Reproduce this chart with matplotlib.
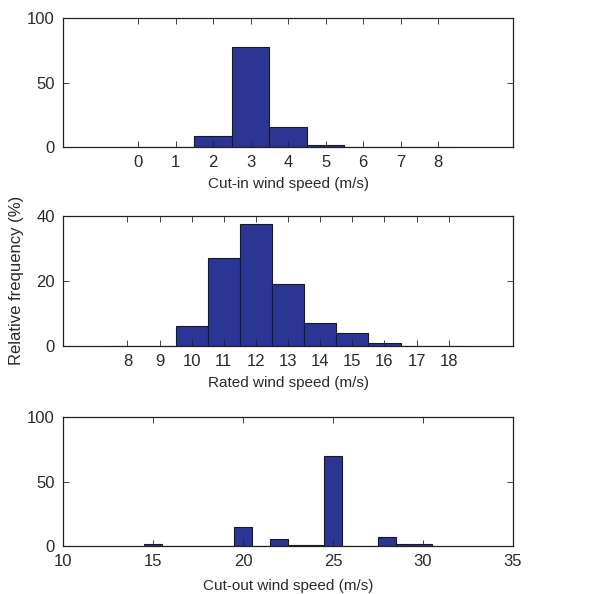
import matplotlib
matplotlib.use("Agg")
import matplotlib.pyplot as plt

plt.rcParams['font.family'] = ['Liberation Sans', 'DejaVu Sans']
plt.rcParams['font.size'] = 11

# relative frequency (%) per wind speed bin
cut_in_speed = [0, 1, 2, 3, 4, 5, 6, 7, 8]
cut_in_freq = [0, 0, 8.5, 77.5, 15, 1, 0, 0, 0]

rated_speed = [8, 9, 10, 11, 12, 13, 14, 15, 16, 17, 18]
rated_freq = [0, 0, 6, 27, 37.5, 19, 7, 4, 0.7, 0, 0]

cut_out_speed = [15, 16, 17, 18, 19, 20, 21, 22, 23, 24, 25, 26, 27, 28, 29, 30]
cut_out_freq = [1.6, 0, 0, 0, 0, 15, 0, 5, 0.8, 0.8, 69.5, 0, 0, 6.7, 1.5, 1.5]

bar_color = '#2b3594'
edge_color = '#1a1a1a'
text_color = '#2a2a2a'

fig = plt.figure(figsize=(5.91, 5.94), dpi=100)
ax1 = fig.add_axes([0.107, 0.753, 0.761, 0.216])
ax2 = fig.add_axes([0.107, 0.418, 0.761, 0.219])
ax3 = fig.add_axes([0.107, 0.081, 0.761, 0.2167])


def hist_bars(ax, x, y):
    ax.bar(x, y, width=1.0, color=bar_color, edgecolor=edge_color, linewidth=0.8)
    ax.tick_params(direction='in', top=True, right=True, length=4, width=0.6,
                   labelsize=12, colors='#222222', labelcolor=text_color, pad=6)
    for s in ax.spines.values():
        s.set_linewidth(0.9)
        s.set_color('#222222')


hist_bars(ax1, cut_in_speed, cut_in_freq)
ax1.set_xlim(-2, 10)
ax1.set_ylim(0, 100)
ax1.set_xticks(cut_in_speed)
ax1.set_yticks([0, 50, 100])
ax1.set_xlabel('Cut-in wind speed (m/s)', fontsize=11, labelpad=5, color=text_color)

hist_bars(ax2, rated_speed, rated_freq)
ax2.set_xlim(6, 20)
ax2.set_ylim(0, 40)
ax2.set_xticks(rated_speed)
ax2.set_yticks([0, 20, 40])
ax2.set_xlabel('Rated wind speed (m/s)', fontsize=11, labelpad=5, color=text_color)
ax2.set_ylabel('Relative frequency (%)', fontsize=12, labelpad=9, color=text_color)

hist_bars(ax3, cut_out_speed, cut_out_freq)
ax3.set_xlim(10, 35)
ax3.set_ylim(0, 100)
ax3.set_xticks([10, 15, 20, 25, 30, 35])
ax3.set_yticks([0, 50, 100])
ax3.set_xlabel('Cut-out wind speed (m/s)', fontsize=11, labelpad=7, color=text_color)

fig.savefig('out.png', dpi=100)
